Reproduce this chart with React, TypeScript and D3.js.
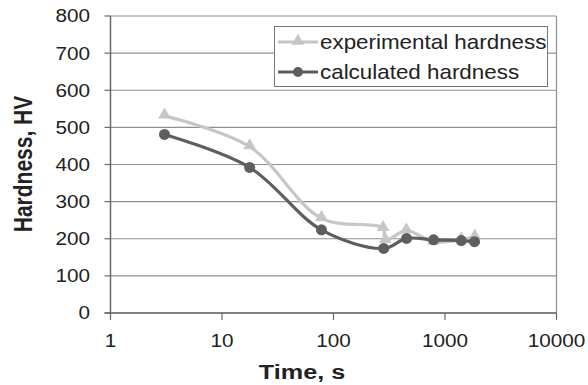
import React from "react";
import * as d3 from "d3";

const seriesNames = ["experimental hardness", "calculated hardness"];
const expTime = [3.05, 17.7, 78, 278, 292, 450, 790, 1400, 1850];
const expHardness = [531, 448, 255, 228, 196, 222, 192, 198, 205];
const calcTime = [3.05, 17.7, 78, 282, 452, 790, 1400, 1840];
const calcHardness = [481, 392, 224, 174, 201, 197, 195, 192];
const yTicks = [0, 100, 200, 300, 400, 500, 600, 700, 800];
const xTicks = [1, 10, 100, 1000, 10000];

const W = 588;
const H = 385;
const left = 110.5;
const right = 556.5;
const top = 16;
const bottom = 313;

const expColor = "#c6c6c6";
const calcColor = "#5e5e5e";
const font = "Liberation Sans, Arial, sans-serif";
const sx = 1.12;

function App() {
  const x = d3.scaleLog().domain([1, 10000]).range([left, right]);
  const y = d3.scaleLinear().domain([0, 800]).range([bottom, top]);

  const line = d3
    .line<[number, number]>()
    .x((d) => x(d[0]))
    .y((d) => y(d[1]))
    .curve(d3.curveCatmullRom.alpha(0.5));

  const expPts: [number, number][] = expTime.map((t, i) => [t, expHardness[i]]);
  const calcPts: [number, number][] = calcTime.map((t, i) => [t, calcHardness[i]]);

  const tri = d3.symbol(d3.symbolTriangle, 70)();

  return (
    <svg width={W} height={H} style={{ position: "absolute", left: 0, top: 0, background: "#fff" }}>
      {/* gridlines */}
      {yTicks.map((t) => (
        <line key={"g" + t} x1={left} x2={right} y1={y(t)} y2={y(t)} stroke="#8f8f8f" strokeWidth={1.2} />
      ))}
      <line x1={right} x2={right} y1={top} y2={bottom} stroke="#8f8f8f" strokeWidth={1.2} />
      {/* axes */}
      <line x1={left} x2={left} y1={top} y2={bottom + 1} stroke="#6a6a6a" strokeWidth={1.5} />
      <line x1={left - 6} x2={right} y1={bottom} y2={bottom} stroke="#6a6a6a" strokeWidth={1.5} />
      {yTicks.map((t) => (
        <g key={"y" + t}>
          <line x1={left - 6} x2={left} y1={y(t)} y2={y(t)} stroke="#6a6a6a" strokeWidth={1.2} />
          <text
            transform={`translate(90,${y(t)}) scale(${sx},1)`}
            dy="0.35em"
            textAnchor="end"
            fontSize={18.5}
            fontFamily={font}
            fill="#222"
          >
            {t}
          </text>
        </g>
      ))}
      {xTicks.map((t) => (
        <g key={"x" + t}>
          <line x1={x(t)} x2={x(t)} y1={bottom} y2={bottom + 7} stroke="#6a6a6a" strokeWidth={1.2} />
          <text
            transform={`translate(${x(t)},341) scale(${sx},1)`}
            dy="0.35em"
            textAnchor="middle"
            fontSize={18.5}
            fontFamily={font}
            fill="#222"
          >
            {t}
          </text>
        </g>
      ))}
      <text
        transform={`translate(302,372) scale(1.2,1)`}
        dy="0.35em"
        textAnchor="middle"
        fontSize={21}
        fontWeight="bold"
        fontFamily={font}
        fill="#222"
      >
        Time, s
      </text>
      <text
        transform={`translate(23,164) rotate(-90) scale(1,1.2)`}
        dy="0.35em"
        textAnchor="middle"
        fontSize={21}
        fontWeight="bold"
        fontFamily={font}
        fill="#222"
      >
        Hardness, HV
      </text>

      {/* series */}
      <path d={line(expPts) || ""} fill="none" stroke={expColor} strokeWidth={3.2} />
      {expPts.map((d, i) => (
        <path key={"e" + i} d={tri || ""} transform={`translate(${x(d[0])},${y(d[1]) - 1})`} fill={expColor} />
      ))}
      <path d={line(calcPts) || ""} fill="none" stroke={calcColor} strokeWidth={3.2} />
      {calcPts.map((d, i) => (
        <circle key={"c" + i} cx={x(d[0])} cy={y(d[1])} r={5.5} fill={calcColor} />
      ))}

      {/* legend */}
      <rect x={274.5} y={26.5} width={273} height={60} fill="#fff" stroke="#777" strokeWidth={1} />
      {seriesNames.map((name, i) => {
        const cy = 42 + i * 30;
        const c = i === 0 ? expColor : calcColor;
        return (
          <g key={name}>
            <line x1={278} x2={318} y1={cy} y2={cy} stroke={c} strokeWidth={3.2} />
            {i === 0 ? (
              <path d={tri || ""} transform={`translate(298,${cy - 1})`} fill={c} />
            ) : (
              <circle cx={298} cy={cy} r={5} fill={c} />
            )}
            <text
              transform={`translate(320,${cy}) scale(${sx},1)`}
              dy="0.35em"
              fontSize={20}
              fontFamily={font}
              fill="#222"
            >
              {name}
            </text>
          </g>
        );
      })}
    </svg>
  );
}

export default App;
